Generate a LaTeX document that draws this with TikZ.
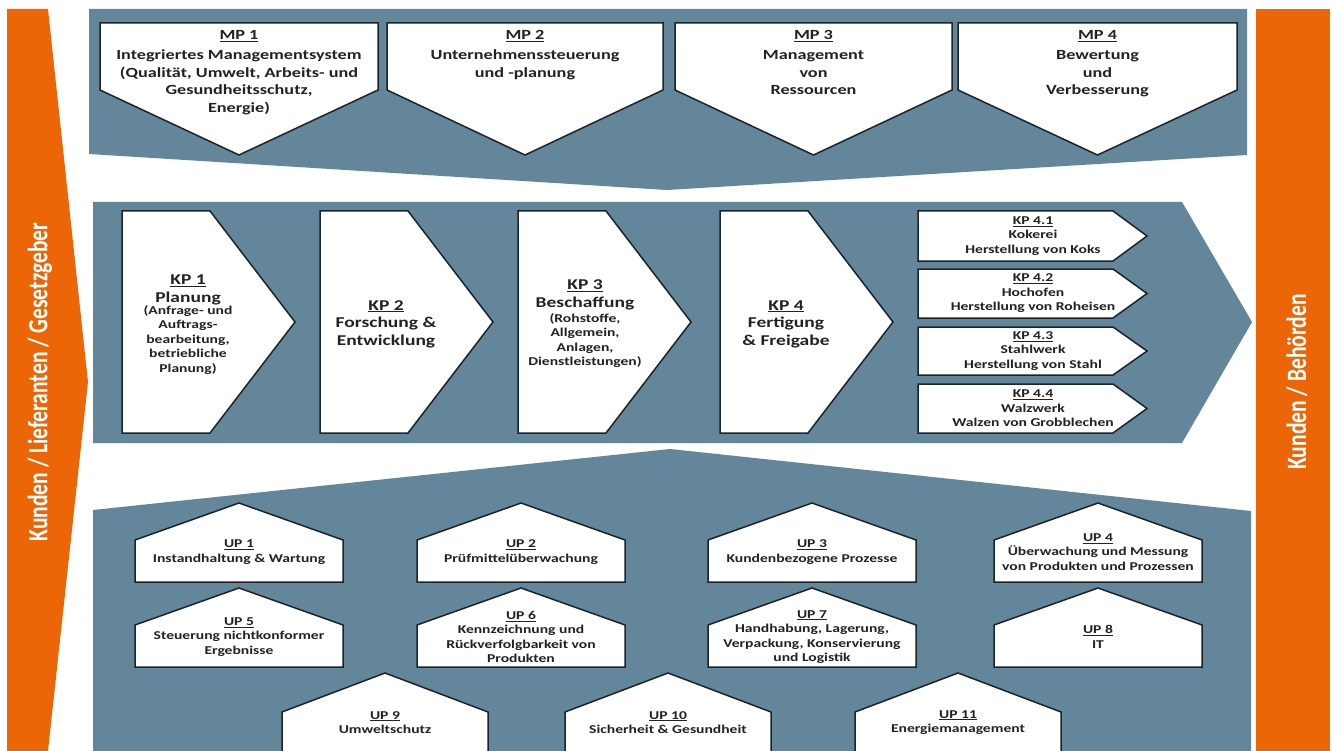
\documentclass[tikz,border=0pt]{standalone}
\usepackage{fontspec}
\setmainfont{Carlito}[FakeStretch=1.3]
\newfontfamily\sidefont{Carlito}[FakeStretch=0.77]
\definecolor{bandblue}{HTML}{63869B}
\definecolor{sideorange}{HTML}{EC6608}
\definecolor{edge}{HTML}{1C232B}
\definecolor{txt}{HTML}{222222}
\begin{document}
\begin{tikzpicture}[x=1pt,y=-1pt,
  band/.style={fill=bandblue,draw=none},
  side/.style={fill=sideorange,draw=none},
  pbox/.style={fill=white,draw=edge,line width=1.5pt,line join=miter},
  mptxt/.style={align=center,inner sep=0pt,text=txt,anchor=north,font=\fontsize{14}{17.5}\selectfont\bfseries},
  kptxt/.style={align=center,inner sep=0pt,text=txt,font=\fontsize{15}{17.5}\selectfont\bfseries},
  subtxt/.style={align=center,inner sep=0pt,text=txt,font=\fontsize{12}{14.5}\selectfont\bfseries},
  sidetxt/.style={inner sep=0pt,text=white,rotate=90,font=\sidefont\fontsize{28}{30}\selectfont\bfseries}]
\useasboundingbox (0,0) rectangle (1332,751);
\fill[white] (0,0) rectangle (1332,751);
\clip (0,0) rectangle (1332,751);

% side bands
\fill[side] (7,9) -- (48,9) -- (88,382) -- (48,751) -- (7,751) -- cycle;
\fill[side] (1256,9) rectangle (1330,751);
\node[sidetxt] (lside) at (40,382) {Kunden / Lieferanten / Gesetzgeber};
\node[sidetxt] (rside) at (1297,382) {Kunden / Behörden};

% bands
\fill[band] (89,9) -- (1247,9) -- (1247,155) -- (667,190) -- (89,154) -- cycle;
\fill[band] (93,202) -- (1182,202) -- (1252,322) -- (1182,443) -- (93,443) -- cycle;
\fill[band] (93,510) -- (670,449) -- (1251,511) -- (1251,760) -- (93,760) -- cycle;

% MP boxes
\draw[pbox] (100,23) -- (378,23) -- (378,90) -- (239,155) -- (100,90) -- cycle;
\draw[pbox] (387,23) -- (663,23) -- (663,90) -- (525,155) -- (387,90) -- cycle;
\draw[pbox] (675,23) -- (952,23) -- (952,90) -- (813.5,155) -- (675,90) -- cycle;
\draw[pbox] (958,23) -- (1237,23) -- (1237,90) -- (1097.5,155) -- (958,90) -- cycle;
\node[mptxt] (mp1) at (239,30.5) {\underline{MP 1}\\[2.5pt]Integriertes Managementsystem\\(Qualität, Umwelt, Arbeits- und\\Gesundheitsschutz,\\Energie)};
\node[mptxt] (mp2) at (525,30.5) {\underline{MP 2}\\[2.5pt]Unternehmenssteuerung\\und -planung};
\node[mptxt] (mp3) at (813.5,30.5) {\underline{MP 3}\\[2.5pt]Management\\von\\Ressourcen};
\node[mptxt] (mp4) at (1097.5,30.5) {\underline{MP 4}\\[2.5pt]Bewertung\\und\\Verbesserung};

% KP boxes
\foreach \l in {122,320,518,720}{
  \draw[pbox] (\l,211) -- (\l+88,211) -- (\l+173,322) -- (\l+88,433) -- (\l,433) -- cycle;
}
\node[kptxt] (kp1) at (188,290) {\underline{KP 1}\\Planung};
\node[subtxt] (kp1s) at (188,340) {(Anfrage- und\\Auftrags-\\bearbeitung,\\betriebliche\\Planung)};
\node[kptxt] (kp2) at (386,324) {\underline{KP 2}\\Forschung \&\\Entwicklung};
\node[kptxt] (kp3) at (585,295) {\underline{KP 3}\\Beschaffung};
\node[subtxt] (kp3s) at (585,340.5) {(Rohstoffe,\\Allgemein,\\Anlagen,\\Dienstleistungen)};
\node[kptxt] (kp4) at (786,324) {\underline{KP 4}\\Fertigung\\\& Freigabe};

% KP 4.x boxes
\foreach \t/\b in {211/261,269/318,327/375,384/433}{
  \draw[pbox] (918,\t) -- (1113,\t) -- (1147,{(\t+\b)/2}) -- (1113,\b) -- (918,\b) -- cycle;
}
\node[subtxt] (kp41) at (1033,236) {\underline{KP 4.1}\\Kokerei\\Herstellung von Koks};
\node[subtxt] (kp42) at (1033,293.5) {\underline{KP 4.2}\\Hochofen\\Herstellung von Roheisen};
\node[subtxt] (kp43) at (1033,351) {\underline{KP 4.3}\\Stahlwerk\\Herstellung von Stahl};
\node[subtxt] (kp44) at (1033,408.5) {\underline{KP 4.4}\\Walzwerk\\Walzen von Grobblechen};

% UP houses
\foreach \c in {239,521,812,1098}{
  \draw[pbox] (\c-104,582) -- (\c-104,540) -- (\c,503) -- (\c+104,540) -- (\c+104,582) -- cycle;
  \draw[pbox] (\c-104,667) -- (\c-104,625) -- (\c,588) -- (\c+104,625) -- (\c+104,667) -- cycle;
}
\foreach \c in {385,668,958}{
  \draw[pbox] (\c-103,765) -- (\c-103,712) -- (\c,673) -- (\c+103,712) -- (\c+103,765) -- cycle;
}
\node[subtxt] (up1) at (239,552) {\underline{UP 1}\\Instandhaltung \& Wartung};
\node[subtxt] (up2) at (521,552) {\underline{UP 2}\\Prüfmittelüberwachung};
\node[subtxt] (up3) at (812,552) {\underline{UP 3}\\Kundenbezogene Prozesse};
\node[subtxt] (up4) at (1098,552) {\underline{UP 4}\\Überwachung und Messung\\von Produkten und Prozessen};
\node[subtxt] (up5) at (239,637) {\underline{UP 5}\\Steuerung nichtkonformer\\Ergebnisse};
\node[subtxt] (up6) at (521,637) {\underline{UP 6}\\Kennzeichnung und\\Rückverfolgbarkeit von\\Produkten};
\node[subtxt] (up7) at (812,637) {\underline{UP 7}\\Handhabung, Lagerung,\\Verpackung, Konservierung\\und Logistik};
\node[subtxt] (up8) at (1098,637) {\underline{UP 8}\\IT};
\node[subtxt] (up9) at (385,722.5) {\underline{UP 9}\\Umweltschutz};
\node[subtxt] (up10) at (668,722.5) {\underline{UP 10}\\Sicherheit \& Gesundheit};
\node[subtxt] (up11) at (958,722.5) {\underline{UP 11}\\Energiemanagement};
\end{tikzpicture}
\end{document}
